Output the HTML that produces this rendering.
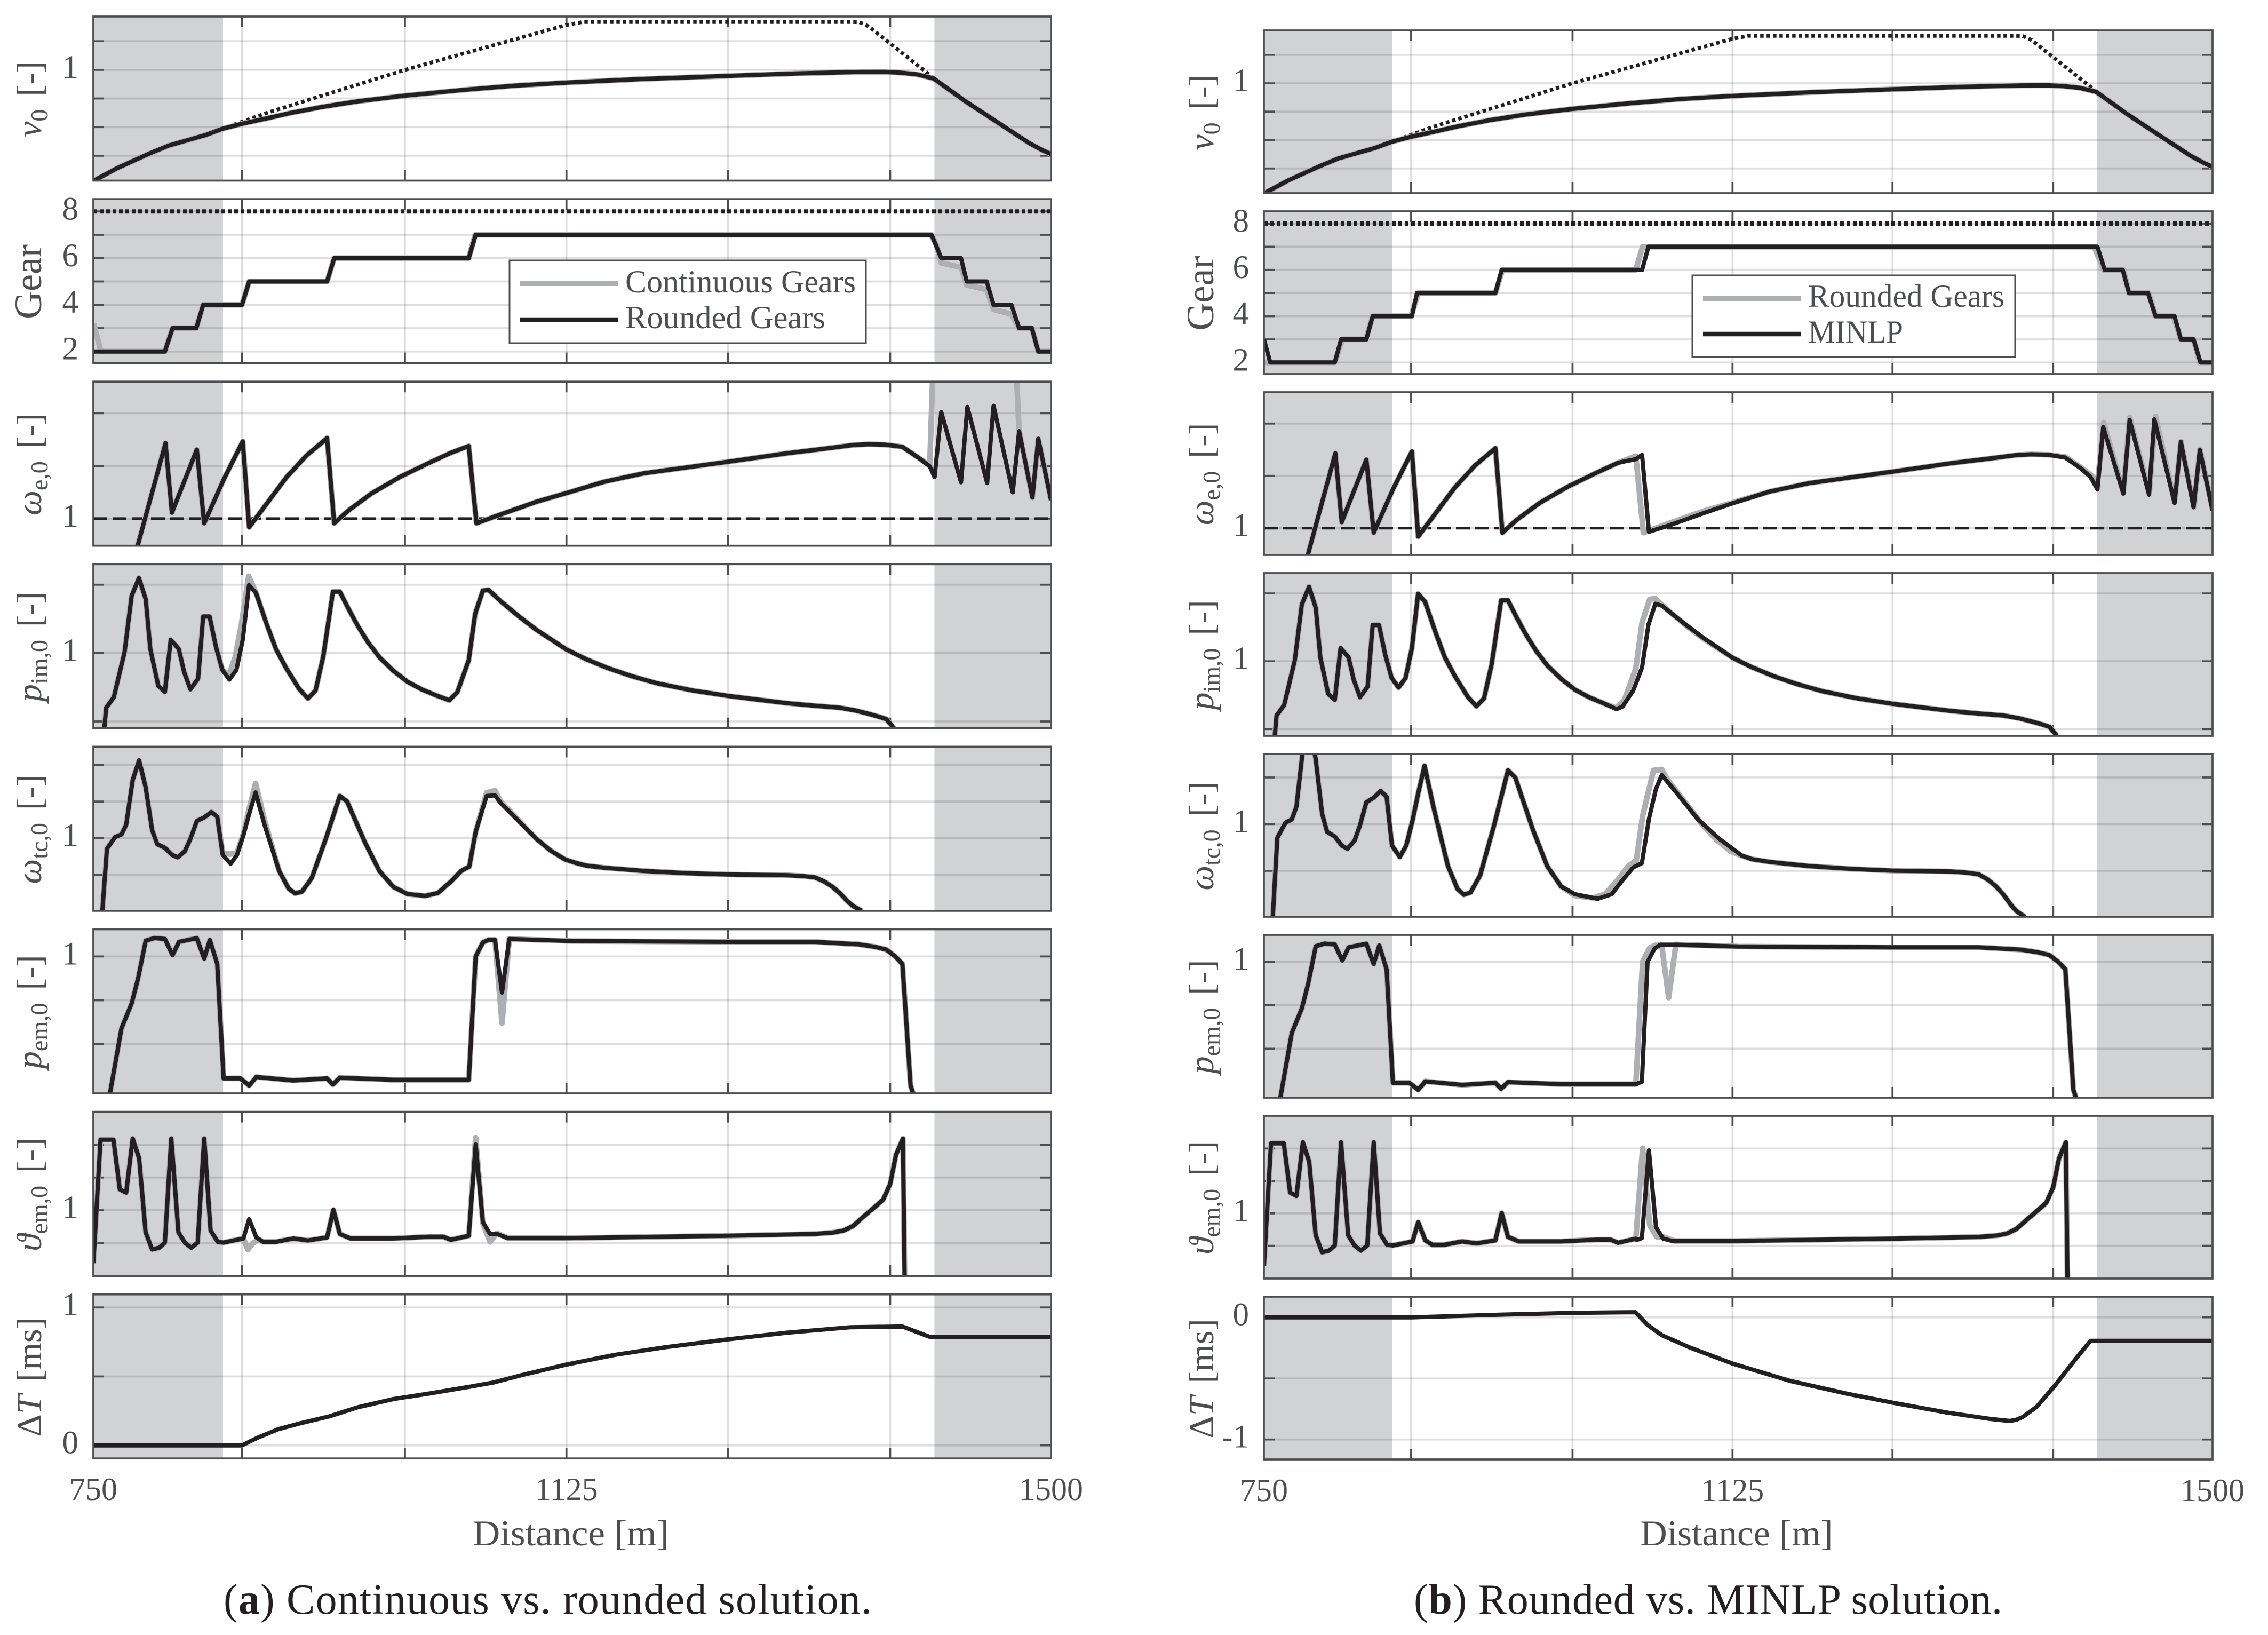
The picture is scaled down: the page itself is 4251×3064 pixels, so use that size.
<!DOCTYPE html>
<html lang="en">
<head>
<meta charset="utf-8">
<title>Continuous, rounded and MINLP gear solutions</title>
<style>
html,body{margin:0;padding:0;background:#fff;}
svg{display:block;}
text{font-family:"Liberation Serif","DejaVu Serif",serif;fill:#4d4e50;}
.caption{fill:#231f20;}
</style>
</head>
<body>
<svg id="figure" xmlns="http://www.w3.org/2000/svg" width="4251" height="3064" viewBox="0 0 4251 3064">
  <rect x="0" y="0" width="4251" height="3064" fill="#ffffff"/>
  <g id="panels"></g>

  <g>
    <rect x="955" y="488" width="668" height="155" fill="#ffffff" stroke="#4d4e50" stroke-width="3"/>
    <line x1="975" x2="1158" y1="531" y2="531" stroke="#aeafb2" stroke-width="10"/>
    <text x="1172" y="548" font-size="60" textLength="432" lengthAdjust="spacingAndGlyphs">Continuous Gears</text>
    <line x1="975" x2="1158" y1="599" y2="599" stroke="#231f20" stroke-width="8.5"/>
    <text x="1172" y="615" font-size="60" textLength="375" lengthAdjust="spacingAndGlyphs">Rounded Gears</text>
  </g>
  <g>
    <rect x="3172" y="516" width="605" height="153" fill="#ffffff" stroke="#4d4e50" stroke-width="3"/>
    <line x1="3192" x2="3375" y1="559" y2="559" stroke="#aeafb2" stroke-width="10"/>
    <text x="3389" y="575" font-size="60" textLength="368" lengthAdjust="spacingAndGlyphs">Rounded Gears</text>
    <line x1="3192" x2="3375" y1="626" y2="626" stroke="#231f20" stroke-width="8.5"/>
    <text x="3389" y="642" font-size="60" textLength="178" lengthAdjust="spacingAndGlyphs">MINLP</text>
  </g>

  <text x="1070" y="2896" font-size="68" text-anchor="middle" textLength="368" lengthAdjust="spacingAndGlyphs">Distance [m]</text>
  <text x="3255" y="2896" font-size="68" text-anchor="middle" textLength="361" lengthAdjust="spacingAndGlyphs">Distance [m]</text>

  <text class="caption" x="419" y="3024" font-size="80" textLength="1215">(<tspan font-weight="bold">a</tspan>) Continuous vs. rounded solution.</text>
  <text class="caption" x="2650" y="3024" font-size="80" textLength="1103">(<tspan font-weight="bold">b</tspan>) Rounded vs. MINLP solution.</text>
</svg>

<script>
/* ---------- shared axis data ---------- */
const xTickValues = [866.4, 994, 1120.5, 1247, 1374];
const xLabelValues = [750, 1120.5, 1500];
const xLabelText = ['750', '1125', '1500'];
const shadeRanges = [[750, 851.5], [1408.7, 1500]];

/* ---------- v0 ---------- */
const v0Ticks = [0.25, 0.5, 0.75, 1, 1.25];
const v0Labels = [1];
const v0X = [750,769,794,809,838,851,867,886,905,929,957,994,1041,1080,1120,1180,1247,1300,1349,1370,1382,1395,1408,1433,1461,1483,1493,1500];
const v0Rounded = [0.03,0.144,0.27,0.339,0.431,0.485,0.531,0.577,0.625,0.676,0.725,0.775,0.826,0.862,0.888,0.92,0.947,0.968,0.981,0.982,0.975,0.96,0.925,0.725,0.52,0.36,0.3,0.265];
const v0BoundX = [851,886,994,1120,1133,1343,1350,1357,1405,1408];
const v0Bound = [0.485,0.625,1.0,1.39,1.417,1.417,1.415,1.38,0.956,0.925];

/* ---------- gear ---------- */
const gearTicks = [2, 3, 4, 5, 6, 7, 8];
const gearLabels = [2, 4, 6, 8];
const gearX = [750,806,812,830.6,836,866.4,872,933,938.6,1044,1049.4,1406.5,1414,1429.5,1434,1449.6,1455,1469,1475,1485,1490,1500];
const gearRounded = [2,2,3,3,4,4,5,5,6,6,7,7,6,6,5,5,4,4,3,3,2,2];
const gearContinuousX = [750,756,806,812,830.6,836,866.4,872,933,938.6,1044,1049,1406,1410,1414,1429.5,1434,1449.6,1455,1469,1475,1485,1490,1500];
const gearContinuous = [3.2,2,2,3,3,4,4,5,5,6,6,7,7,6.6,5.8,5.6,4.85,4.65,3.8,3.6,3,3,2,2];
const gearMinlpX = [750,755,806,811,831,836,867,871,933,938,1049,1054,1409,1414.8,1429,1434,1449,1455,1470,1475,1485,1490.5,1500];
const gearMinlp = [3,2,2,3,3,4,4,5,5,6,6,7,7,6,6,5,5,4,4,3,3,2,2];
const gearBoundX = [750, 1500];
const gearBound = [8, 8];

/* ---------- engine speed ---------- */
const weTicks = [1, 1.5, 2];
const weLabels = [1];
const weRefX = [750, 1500];
const weRef = [1, 1];
const weX = [784.7,806.5,811.5,831,836.8,852,867,872,885,901,917,933,938.6,950,968,990,1013,1030,1044,1050,1069,1097,1120.5,1150,1181,1215,1247,1293,1320,1346,1357,1370,1383.5,1396,1405,1408.8,1414,1429.5,1434.5,1450,1455,1470,1475,1485.4,1490,1500];
const weRounded = [0.743,1.716,1.057,1.655,0.956,1.37,1.733,0.919,1.13,1.39,1.6,1.764,0.956,1.08,1.24,1.395,1.53,1.625,1.689,0.956,1.04,1.16,1.243,1.35,1.43,1.487,1.54,1.62,1.66,1.70,1.706,1.702,1.682,1.58,1.497,1.395,2.01,1.345,2.06,1.338,2.07,1.25,1.83,1.2,1.757,1.176];
const weContinuousX = [1405,1408,1472,1475];
const weContinuous = [1.5,2.6,2.6,1.83];
const weMinlpX = [1044,1049,1054.4,1069,1097,1120,1150,1181,1215,1247,1293,1320,1346,1357,1370,1383.5,1396,1403.5,1409,1413.6,1429.5,1434.5,1449.8,1454,1470,1475,1485,1490,1500];
const weMinlp = [1.66,1.70,0.965,1.02,1.14,1.235,1.35,1.43,1.487,1.54,1.62,1.66,1.70,1.706,1.702,1.675,1.57,1.49,1.37,1.965,1.33,2.035,1.32,2.04,1.24,1.825,1.2,1.747,1.17];

/* ---------- intake manifold pressure ---------- */
const pimTicks = [0.5, 1, 1.5];
const pimLabels = [1];
const pimX = [758.6,760,766,774.4,780,785.7,791,794.6,800.8,806,810.6,816.9,821,826,832,836,841,846,851,856.5,862,867,871.9,877.4,885.8,893,901,911,918,924,930,937.6,943,950,957,965,974,985,996,1007,1018.6,1028.7,1035,1044,1049,1055,1059.5,1069,1083,1097,1120.5,1136,1153,1172,1192,1220,1247,1270,1293,1315,1335,1347,1357,1365,1371,1377];
const pimRounded = [0.451,0.6,0.677,1.006,1.42,1.549,1.394,1.03,0.761,0.716,1.097,1.03,0.864,0.735,0.813,1.267,1.267,1.045,0.877,0.806,0.877,1.097,1.497,1.439,1.21,1.03,0.89,0.74,0.668,0.726,0.974,1.449,1.449,1.32,1.2,1.08,0.97,0.87,0.79,0.735,0.69,0.655,0.713,0.948,1.287,1.457,1.462,1.379,1.27,1.17,1.026,0.955,0.89,0.83,0.778,0.725,0.687,0.66,0.634,0.615,0.6,0.58,0.556,0.535,0.517,0.45];
const pimContinuousX = [851,856,861,866,871.6,877.4];
const pimContinuous = [0.877,0.84,0.968,1.213,1.562,1.44];
const pimMinlpX = [1028.7,1033.5,1042,1049,1054,1059.5,1064.6,1081.5,1097];
const pimMinlp = [0.647,0.666,0.784,0.955,1.27,1.424,1.41,1.284,1.175];

/* ---------- turbocharger speed ---------- */
const wtcTicksLeft = [0.5, 1, 1.5, 2];
const wtcTicksRight = [0.5, 1, 1.5];
const wtcLabels = [1];
const wtcX = [757,760.6,767,772,775.7,780.8,785.8,790.9,796,800,806,811.6,816,821.6,826,831,836.8,842.4,847,851.3,857.5,862.5,867.5,872,877,884,895.5,903,908,913.4,921,932,943,948.7,962.7,974,985,996,1010,1019.8,1030,1038,1044.4,1049.4,1058,1064.5,1069,1097,1108,1119.4,1128,1136,1150,1181,1215,1247,1293,1306,1315,1322,1329,1335,1340.5,1345,1351.7];
const wtcRounded = [0.005,0.854,1.015,1.05,1.185,1.795,2.063,1.698,1.11,0.917,0.868,0.77,0.737,0.82,0.99,1.234,1.283,1.356,1.293,0.77,0.649,0.77,1.04,1.33,1.624,1.185,0.551,0.307,0.244,0.268,0.454,0.99,1.576,1.5,0.94,0.551,0.332,0.234,0.21,0.249,0.405,0.551,0.61,1.088,1.576,1.585,1.478,0.99,0.83,0.707,0.66,0.624,0.595,0.551,0.52,0.502,0.493,0.48,0.463,0.41,0.332,0.24,0.137,0.07,0.005];
const wtcContinuousX = [851.3,857,862.5,867.5,872,877,884];
const wtcContinuous = [0.8,0.78,0.8,1.06,1.4,1.75,1.25];
const wtcContinuous2X = [1058,1064.5,1069];
const wtcContinuous2 = [1.62,1.65,1.5];
const wtcMinlpX = [996,1013.8,1025,1033.5,1042,1048.8,1054.4,1060,1064.6,1076,1093,1110,1128];
const wtcMinlp = [0.25,0.2,0.25,0.4,0.536,0.582,1.054,1.38,1.525,1.34,1.054,0.843,0.662];

/* ---------- electric motor power ---------- */
const pemTicks = [0, 0.5, 1];
const pemLabels = [1];
const pemX = [763,772,780,785,791,798,806,812,817,831,836.8,841.2,847,852,865,872,877.6,906.7,933,937.5,943,985,1044,1049.4,1055,1059.5,1064.5,1070,1075.7,1125,1247,1315,1349,1362,1371,1378,1383.6,1390,1392];
const pemRounded = [-0.563,0.18,0.465,0.75,1.18,1.21,1.2,1.016,1.167,1.208,0.976,1.188,0.914,-0.392,-0.392,-0.473,-0.376,-0.416,-0.392,-0.461,-0.384,-0.408,-0.408,1.0,1.16,1.19,1.19,0.588,1.2,1.176,1.167,1.167,1.139,1.11,1.078,1.0,0.914,-0.473,-0.563];
const pemContinuousX = [1064.5,1070,1075.7];
const pemContinuous = [1.19,0.24,1.2];
const pemMinlpX = [1044,1048.8,1053.3,1059,1063.5,1076,1125];
const pemMinlp = [-0.408,-0.38,1,1.156,1.197,1.197,1.176];

/* ---------- electric motor torque ---------- */
const temTicks = [0.5, 1, 1.5, 2];
const temLabels = [1];
const temX = [750,755.6,765.7,770.7,775.7,780.8,785.8,790.9,796,801.5,806,811,816.6,821.6,826.7,831.7,836.8,841.8,847.4,852,867.5,872,877.6,883,892.7,906.7,918,933,938,943,951.5,985,1013,1024,1030,1044,1049.4,1055,1060.6,1066,1074.6,1120.5,1247,1315,1330,1337.6,1345,1354.5,1362,1368.5,1374,1378.6,1384,1385.3];
const temRounded = [0.19,2.08,2.08,1.32,1.27,2.095,1.795,0.663,0.4,0.426,0.505,2.095,0.663,0.505,0.426,0.505,2.095,0.69,0.516,0.505,0.568,0.863,0.584,0.516,0.516,0.568,0.537,0.584,1.005,0.637,0.568,0.568,0.595,0.595,0.547,0.61,2.005,0.82,0.637,0.637,0.574,0.574,0.61,0.637,0.66,0.69,0.76,0.926,1.05,1.163,1.4,1.847,2.095,-0.005];
const temContinuousX = [867.5,871,875,880];
const temContinuous = [0.57,0.4,0.5,0.55];
const temContinuous2X = [1049.4,1055,1060.6,1066];
const temContinuous2 = [2.11,0.8,0.516,0.65];
const temMinlpX = [1044.8,1048.8,1054.4,1060,1065.6,1073];
const temMinlp = [0.59,0.62,1.97,0.787,0.61,0.574];

/* ---------- time difference ---------- */
const dtTicksLeft = [0, 0.5, 1];
const dtLabelsLeft = [0, 1];
const dtTicksRight = [-1, -0.5, 0];
const dtLabelsRight = [-1, 0];
const dtLeftX = [750,866.4,878.5,895,912,934.7,957,985,1013,1044,1063.4,1086,1120.5,1158.6,1198,1247,1293,1343,1383.6,1405,1500];
const dtLeft = [0,0,0.055,0.118,0.16,0.21,0.276,0.336,0.376,0.424,0.456,0.511,0.586,0.657,0.712,0.769,0.817,0.857,0.862,0.787,0.787];
const dtRightX = [750,867,940,997,1043.7,1053.3,1064.6,1087,1121,1166,1211,1247.6,1290.5,1324,1339.6,1345,1349.7,1361,1375,1392,1403.5,1500];
const dtRight = [0,0,0.0225,0.037,0.042,-0.062,-0.146,-0.248,-0.38,-0.52,-0.625,-0.699,-0.78,-0.831,-0.848,-0.838,-0.817,-0.732,-0.563,-0.338,-0.192,-0.192];

/* ---------- helpers ---------- */
const SVGNS = 'http://www.w3.org/2000/svg';
const INK = '#231f20', FRAME = '#4d4e50', GREY = '#aeafb2', SHADE = '#d1d2d4';
const GRID = 'rgba(35,31,32,0.14)';

function make(tag, attrs, parent) {
  const node = document.createElementNS(SVGNS, tag);
  Object.keys(attrs).forEach(function (k) { node.setAttribute(k, attrs[k]); });
  parent.appendChild(node);
  return node;
}
function patched(baseX, baseY, patchX, patchY) {
  const a = patchX[0], b = patchX[patchX.length - 1];
  const xs = [], ys = [];
  baseX.forEach(function (x, i) { if (x < a) { xs.push(x); ys.push(baseY[i]); } });
  patchX.forEach(function (x, i) { xs.push(x); ys.push(patchY[i]); });
  baseX.forEach(function (x, i) { if (x > b) { xs.push(x); ys.push(baseY[i]); } });
  return { x: xs, y: ys };
}
function plain(x, y) { return { x: x, y: y }; }

const v0Base = plain(v0X, v0Rounded);
const gearBase = plain(gearX, gearRounded);
const weBase = plain(weX, weRounded);
const pimBase = plain(pimX, pimRounded);
const wtcBase = plain(wtcX, wtcRounded);
const pemBase = plain(pemX, pemRounded);
const temBase = plain(temX, temRounded);
const wtcCont1 = patched(wtcX, wtcRounded, wtcContinuousX, wtcContinuous);
const temCont1 = patched(temX, temRounded, temContinuousX, temContinuous);

const panelDefs = [
  { key: 'v0', ylim: [0.033, 1.465], ticks: [v0Ticks, v0Ticks], labels: [v0Labels, v0Labels],
    title: [{ t: 'v', i: 1 }, { t: '0', sub: 1 }, { t: '[-]', gap: 1 }],
    left: { grey: v0Base, black: v0Base }, right: { grey: v0Base, black: v0Base },
    extra: { x: v0BoundX, y: v0Bound, dash: '6.5 5.5', w: 7, name: 'velocity-limit-line' } },
  { key: 'gear', ylim: [1.5, 8.53], ticks: [gearTicks, gearTicks], labels: [gearLabels, gearLabels],
    titleSize: 72,
    title: [{ t: 'Gear' }],
    left: { grey: plain(gearContinuousX, gearContinuous), black: gearBase },
    right: { grey: gearBase, black: plain(gearMinlpX, gearMinlp) },
    extra: { x: gearBoundX, y: gearBound, dash: '7 5', w: 8, name: 'max-gear-line' } },
  { key: 'engine-speed', ylim: [0.743, 2.30], ticks: [weTicks, weTicks], labels: [weLabels, weLabels],
    title: [{ t: 'ω', i: 1 }, { t: 'e,0', sub: 1 }, { t: '[-]', gap: 1 }],
    left: { grey: patched(weX, weRounded, weContinuousX, weContinuous), black: weBase },
    right: { grey: weBase, black: patched(weX, weRounded, weMinlpX, weMinlp) },
    extra: { x: weRefX, y: weRef, dash: '26 10', w: 5, name: 'engine-speed-reference-line' } },
  { key: 'intake-pressure', ylim: [0.45, 1.65], ticks: [pimTicks, pimTicks], labels: [pimLabels, pimLabels],
    title: [{ t: 'p', i: 1 }, { t: 'im,0', sub: 1 }, { t: '[-]', gap: 1 }],
    left: { grey: patched(pimX, pimRounded, pimContinuousX, pimContinuous), black: pimBase },
    right: { grey: pimBase, black: patched(pimX, pimRounded, pimMinlpX, pimMinlp) } },
  { key: 'turbo-speed', ylim: [0.005, 2.25], ylimRight: [0.008, 1.751], ticks: [wtcTicksLeft, wtcTicksRight], labels: [wtcLabels, wtcLabels],
    title: [{ t: 'ω', i: 1 }, { t: 'tc,0', sub: 1 }, { t: '[-]', gap: 1 }],
    left: { grey: patched(wtcCont1.x, wtcCont1.y, wtcContinuous2X, wtcContinuous2), black: wtcBase },
    right: { grey: wtcBase, black: patched(wtcX, wtcRounded, wtcMinlpX, wtcMinlp) } },
  { key: 'motor-power', ylim: [-0.563, 1.31], ticks: [pemTicks, pemTicks], labels: [pemLabels, pemLabels],
    title: [{ t: 'p', i: 1 }, { t: 'em,0', sub: 1 }, { t: '[-]', gap: 1 }],
    left: { grey: patched(pemX, pemRounded, pemContinuousX, pemContinuous), black: pemBase },
    right: { grey: pemBase, black: patched(pemX, pemRounded, pemMinlpX, pemMinlp) } },
  { key: 'motor-torque', ylim: [-0.005, 2.505], ticks: [temTicks, temTicks], labels: [temLabels, temLabels],
    title: [{ t: 'ϑ', i: 1 }, { t: 'em,0', sub: 1 }, { t: '[-]', gap: 1 }],
    left: { grey: patched(temCont1.x, temCont1.y, temContinuous2X, temContinuous2), black: temBase },
    right: { grey: temBase, black: patched(temX, temRounded, temMinlpX, temMinlp) } },
  { key: 'time-difference', ylim: [-0.095, 1.095], ylimRight: [-1.163, 0.169], ticks: [dtTicksLeft, dtTicksRight], labels: [dtLabelsLeft, dtLabelsRight],
    title: [{ t: 'Δ' }, { t: 'T', i: 1 }, { t: '[ms]', gap: 1 }],
    left: { black: plain(dtLeftX, dtLeft) }, right: { black: plain(dtRightX, dtRight) } }
];

const chartDefs = [
  { side: 'left', xL: 175, xR: 1970, top: 31, pitch: 342.1, h: 307.5, titleX: 77 },
  { side: 'right', xL: 2369, xR: 4147, top: 57, pitch: 339, h: 305, titleX: 2274 }
];

const root = document.getElementById('panels');

function fmtPath(series, sx, sy) {
  return series.x.map(function (x, i) {
    return (i ? 'L' : 'M') + sx(x).toFixed(1) + ' ' + sy(series.y[i]).toFixed(1);
  }).join('');
}

chartDefs.forEach(function (chart, ci) {
  const isLeft = chart.side === 'left';
  const sx = function (m) { return chart.xL + (m - 750) / 750 * (chart.xR - chart.xL); };

  panelDefs.forEach(function (panel, pi) {
    const top = chart.top + chart.pitch * pi;
    const bottom = top + chart.h;
    const lim = (!isLeft && panel.ylimRight) ? panel.ylimRight : panel.ylim;
    const sy = function (v) { return bottom - (v - lim[0]) / (lim[1] - lim[0]) * chart.h; };
    const data = isLeft ? panel.left : panel.right;

    const group = make('g', {}, root);
    
    

    const clipId = 'clip-' + ci + '-' + pi;
    const clip = make('clipPath', { id: clipId }, group);
    make('rect', { x: chart.xL, y: top, width: chart.xR - chart.xL, height: chart.h }, clip);

    shadeRanges.forEach(function (range) {
      const shade = make('rect', { x: sx(range[0]), y: top, width: sx(range[1]) - sx(range[0]), height: chart.h, fill: SHADE }, group);
      
      
    });

    xTickValues.forEach(function (v) {
      const grid = make('line', { x1: sx(v), x2: sx(v), y1: top, y2: bottom, stroke: GRID, 'stroke-width': 3.7 }, group);
      
      
      const tickTop = make('line', { x1: sx(v), x2: sx(v), y1: top, y2: top + 20, stroke: FRAME, 'stroke-width': 3.7 }, group);
      
      
      const tickBottom = make('line', { x1: sx(v), x2: sx(v), y1: bottom - 20, y2: bottom, stroke: FRAME, 'stroke-width': 3.7 }, group);
      
      
    });

    panel.ticks[ci].forEach(function (v) {
      const grid = make('line', { x1: chart.xL, x2: chart.xR, y1: sy(v), y2: sy(v), stroke: GRID, 'stroke-width': 3.7 }, group);
      
      
      const tickA = make('line', { x1: chart.xL, x2: chart.xL + 20, y1: sy(v), y2: sy(v), stroke: FRAME, 'stroke-width': 3.7 }, group);
      
      
      const tickB = make('line', { x1: chart.xR - 20, x2: chart.xR, y1: sy(v), y2: sy(v), stroke: FRAME, 'stroke-width': 3.7 }, group);
      
      
    });

    if (panel.extra) {
      const extra = make('path', {
        d: fmtPath(panel.extra, sx, sy), fill: 'none', stroke: INK,
        'stroke-width': panel.extra.w, 'stroke-dasharray': panel.extra.dash, 'clip-path': 'url(#' + clipId + ')'
      }, group);
      
      
    }

    if (data.grey) {
      const greyLine = make('path', {
        d: fmtPath(data.grey, sx, sy), fill: 'none', stroke: GREY, 'stroke-width': 10.5,
        'stroke-linejoin': 'round', 'clip-path': 'url(#' + clipId + ')'
      }, group);
      
      
    }

    const blackLine = make('path', {
      d: fmtPath(data.black, sx, sy), fill: 'none', stroke: INK, 'stroke-width': 8,
      'stroke-linejoin': 'round', 'clip-path': 'url(#' + clipId + ')'
    }, group);
    
    

    const frame = make('rect', { x: chart.xL, y: top, width: chart.xR - chart.xL, height: chart.h, fill: 'none', stroke: FRAME, 'stroke-width': 3.7 }, group);
    
    

    panel.labels[ci].forEach(function (v) {
      const label = make('text', { x: chart.xL - 28, y: sy(v) + 15, 'font-size': 61, 'text-anchor': 'end' }, group);
      label.textContent = String(v);
      
      
    });

    const cy = (top + bottom) / 2 + 1;
    const title = make('text', {
      x: chart.titleX, y: cy, 'font-size': panel.titleSize || 66, 'text-anchor': 'middle',
      transform: 'rotate(-90 ' + chart.titleX + ' ' + cy.toFixed(1) + ')'
    }, group);
    
    
    let lowered = false;
    panel.title.forEach(function (run) {
      const span = make('tspan', {}, title);
      span.textContent = run.t;
      if (run.i) span.setAttribute('font-style', 'italic');
      if (run.sub) {
        span.setAttribute('font-size', 46);
        span.setAttribute('dy', 12);
        lowered = true;
      } else if (lowered) {
        span.setAttribute('dy', -12);
        lowered = false;
      }
      if (run.gap) span.setAttribute('dx', 24);
    });

    if (pi === panelDefs.length - 1) {
      xLabelValues.forEach(function (v, i) {
        const xLabel = make('text', { x: sx(v), y: bottom + 78, 'font-size': 60, 'text-anchor': 'middle' }, group);
        xLabel.textContent = xLabelText[i];
        
        
      });
    }
  });
});
</script>
</body>
</html>
